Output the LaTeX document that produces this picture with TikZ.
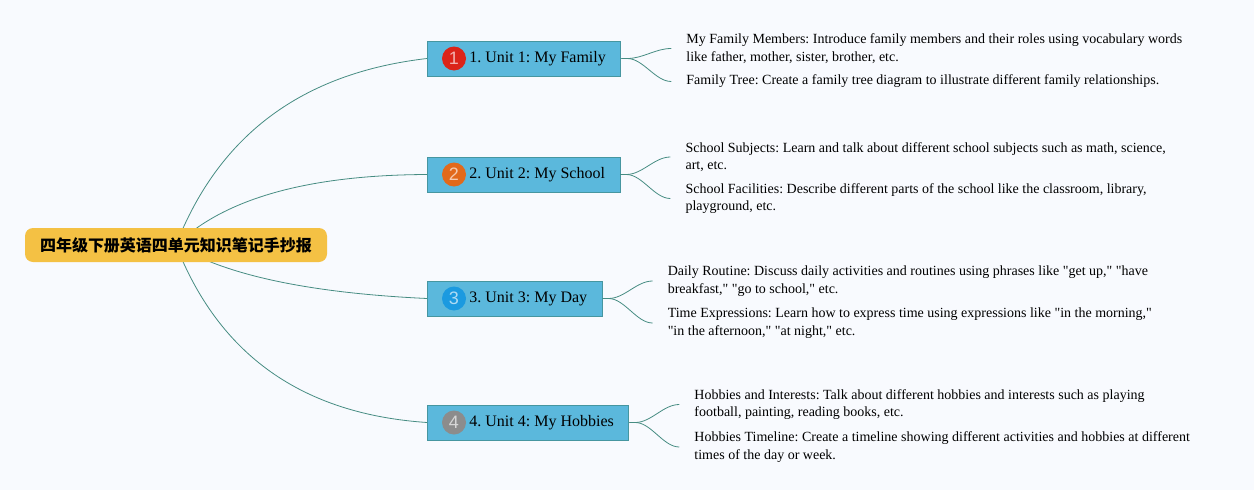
\documentclass[tikz,border=0pt]{standalone}
\usepackage{fontspec}
\setmainfont{Liberation Serif}[Ligatures=TeXOff]
\setsansfont{Liberation Sans}
\newfontfamily\cjk{Noto Sans CJK SC}
\usepackage{tikz}
\usetikzlibrary{backgrounds}
\frenchspacing

\definecolor{bgcol}{RGB}{248,250,254}
\definecolor{rootfill}{RGB}{244,193,68}
\definecolor{unitfill}{RGB}{91,184,220}
\definecolor{unitline}{RGB}{70,150,160}
\definecolor{linkcol}{RGB}{70,140,130}
\definecolor{dotred}{RGB}{219,36,25}
\definecolor{dotorange}{RGB}{226,105,27}
\definecolor{dotblue}{RGB}{27,154,224}
\definecolor{dotgrey}{RGB}{140,140,140}

\begin{document}
\begin{tikzpicture}[x=1pt,y=-1pt,
		root/.style={fill=rootfill, rounded corners=8pt, minimum width=302pt, minimum height=34pt, inner sep=0pt, font=\cjk\bfseries\fontsize{16}{18}\selectfont},
		unit/.style={draw=unitline, fill=unitfill, line width=.8pt, minimum height=35pt, inner xsep=15pt, anchor=west, font=\fontsize{16}{18}\selectfont},
		numdot/.style={circle, fill=#1, minimum size=24pt, inner sep=0pt, text=white, text opacity=.65, font=\sffamily\fontsize{18}{18}\selectfont},
		item/.style={anchor=west, inner sep=0pt, align=left, font=\fontsize{14}{17.5}\selectfont},
		link/.style={draw=linkcol, line width=.8pt}
	]
		\useasboundingbox (0,0) rectangle (1254,490);
		% root and units
		\node[root] (root) at (176,245) {四年级下册英语四单元知识笔记手抄报};
		\node[unit] (u1) at (427,58.5) {\hspace*{27pt}1. Unit 1: My Family};
		\node[unit] (u2) at (427,174.5) {\hspace*{27pt}2. Unit 2: My School};
		\node[unit] (u3) at (427,298.5) {\hspace*{27pt}3. Unit 3: My Day};
		\node[unit] (u4) at (427,422.5) {\hspace*{27pt}4. Unit 4: My Hobbies};
		\node[numdot=dotred] (n1) at ([xshift=27]u1.west) {1};
		\node[numdot=dotorange] (n2) at ([xshift=27]u2.west) {2};
		\node[numdot=dotblue] (n3) at ([xshift=27]u3.west) {3};
		\node[numdot=dotgrey] (n4) at ([xshift=27]u4.west) {4};
		% notes
		\node[item] (t11) at ([shift={(65,-10)}]u1.east) {My Family Members: Introduce family members and their roles using vocabulary words\\like father, mother, sister, brother, etc.};
		\node[item] (t12) at ([shift={(65,23)}]u1.east) {Family Tree: Create a family tree diagram to illustrate different family relationships.};
		\node[item] (t21) at ([shift={(65,-17.5)}]u2.east) {School Subjects: Learn and talk about different school subjects such as math, science,\\art, etc.};
		\node[item] (t22) at ([shift={(65,24)}]u2.east) {School Facilities: Describe different parts of the school like the classroom, library,\\playground, etc.};
		\node[item] (t31) at ([shift={(65,-17.5)}]u3.east) {Daily Routine: Discuss daily activities and routines using phrases like "get up," "have\\breakfast," "go to school," etc.};
		\node[item] (t32) at ([shift={(65,24.5)}]u3.east) {Time Expressions: Learn how to express time using expressions like "in the morning,"\\"in the afternoon," "at night," etc.};
		\node[item] (t41) at ([shift={(65,-18)}]u4.east) {Hobbies and Interests: Talk about different hobbies and interests such as playing\\football, painting, reading books, etc.};
		\node[item] (t42) at ([shift={(65,24.5)}]u4.east) {Hobbies Timeline: Create a timeline showing different activities and hobbies at different\\times of the day or week.};
		\begin{scope}[on background layer]
			\fill[bgcol] (0,0) rectangle (1254,490);
			\draw[link] (root.center) .. controls (219,135) and (302,73) .. (u1.west);
			\draw[link] (root.center) .. controls (225,198) and (309,175) .. (u2.west);
			\draw[link] (root.center) .. controls (225,275) and (309,293) .. (u3.west);
			\draw[link] (root.center) .. controls (219,355) and (302,414) .. (u4.west);
		\end{scope}
		% branches to notes
		\foreach \u/\a/\b in {u1/t11/t12, u2/t21/t22, u3/t31/t32, u4/t41/t42}{
			\draw[link] (\u.east) -- ++(6,0) .. controls +(16,0) and +(-16,0) .. ([xshift=-15]\a.west);
			\draw[link] (\u.east) -- ++(6,0) .. controls +(16,0) and +(-16,0) .. ([xshift=-15]\b.west);
		}
\end{tikzpicture}
\end{document}
